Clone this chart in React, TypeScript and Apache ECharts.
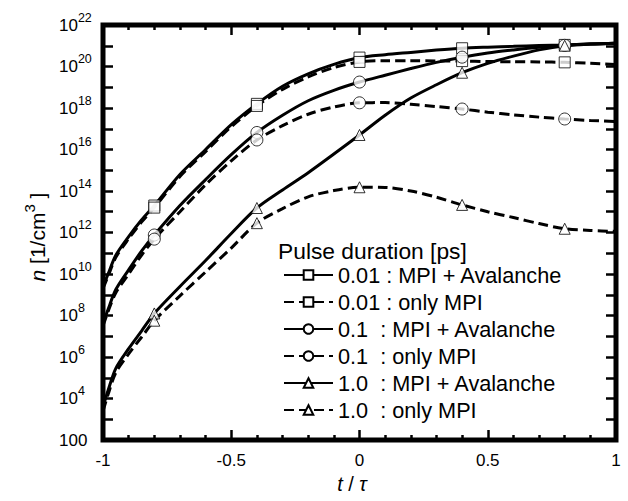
import React, { useEffect, useRef } from 'react';
import * as echarts from 'echarts';

// t / tau sample positions
const xs = [-1, -0.98, -0.95, -0.9, -0.85, -0.8, -0.7, -0.6, -0.5, -0.4, -0.3, -0.2, -0.1, 0, 0.1, 0.2, 0.3, 0.4, 0.5, 0.6, 0.7, 0.8, 0.9, 1];
// marker positions
const markerX = [-0.8, -0.4, 0, 0.4, 0.8];

// log10 of n [1/cm^3]
const aval001 = [9.4, 10.0, 10.9, 11.8, 12.6, 13.3, 14.8, 16.0, 17.2, 18.2, 19.05, 19.65, 20.1, 20.43, 20.57, 20.68, 20.79, 20.88, 20.93, 20.97, 21.01, 21.04, 21.08, 21.12];
const mpi001 = [9.3, 9.9, 10.8, 11.7, 12.5, 13.2, 14.7, 15.9, 17.1, 18.1, 18.9, 19.5, 19.95, 20.22, 20.28, 20.28, 20.27, 20.26, 20.24, 20.23, 20.22, 20.2, 20.16, 20.1];
const aval01 = [7.6, 8.3, 9.25, 10.2, 11.1, 11.88, 13.3, 14.55, 15.75, 16.82, 17.65, 18.35, 18.85, 19.25, 19.58, 19.9, 20.2, 20.45, 20.65, 20.8, 20.93, 21.02, 21.08, 21.12];
const mpi01 = [7.5, 8.2, 9.1, 10.0, 10.9, 11.68, 13.0, 14.3, 15.45, 16.46, 17.15, 17.7, 18.05, 18.25, 18.26, 18.18, 18.07, 17.95, 17.8, 17.67, 17.56, 17.47, 17.4, 17.35];
const aval1 = [3.6, 4.4, 5.45, 6.4, 7.25, 8.1, 9.4, 10.65, 11.95, 13.18, 14.05, 14.88, 15.78, 16.7, 17.65, 18.48, 19.12, 19.7, 20.15, 20.5, 20.8, 21.0, 21.08, 21.12];
const mpi1 = [3.4, 4.2, 5.25, 6.15, 6.95, 7.75, 8.95, 10.1, 11.25, 12.45, 13.15, 13.72, 14.02, 14.18, 14.17, 14.0, 13.7, 13.33, 13.0, 12.72, 12.43, 12.18, 12.1, 12.05];

const names = [
  '0.01 : MPI + Avalanche',
  '0.01 : only MPI',
  '0.1  : MPI + Avalanche',
  '0.1  : only MPI',
  '1.0  : MPI + Avalanche',
  '1.0  : only MPI',
];

const FONT = '"Liberation Sans", Arial, Helvetica, sans-serif';

export default function App() {
  const ref = useRef<HTMLDivElement>(null);
  useEffect(() => {
    const chart = echarts.init(ref.current!, null, { renderer: 'svg' });
    const defs = [
      { name: names[0], data: aval001, dashed: false, symbol: 'rect', size: 11 },
      { name: names[1], data: mpi001, dashed: true, symbol: 'rect', size: 11 },
      { name: names[2], data: aval01, dashed: false, symbol: 'circle', size: 12 },
      { name: names[3], data: mpi01, dashed: true, symbol: 'circle', size: 12 },
      { name: names[4], data: aval1, dashed: false, symbol: 'triangle', size: 11 },
      { name: names[5], data: mpi1, dashed: true, symbol: 'triangle', size: 11 },
    ];
    const markStyle = { color: '#fff', borderColor: '#000', borderWidth: 1 };
    const tickCommon = { show: true, inside: true, length: 10, lineStyle: { color: '#000', width: 2.5 } };
    const minorCommon = { show: true, splitNumber: 5, length: 5, lineStyle: { color: '#000', width: 2.5 } };
    const xBase = { type: 'value', min: -1, max: 1, interval: 0.5, splitLine: { show: false }, axisLine: { show: false, onZero: false } };
    const yBase = { type: 'value', min: 2, max: 22, interval: 1, splitLine: { show: false }, axisLine: { show: false, onZero: false } };

    const option: any = {
      animation: false,
      backgroundColor: '#fff',
      textStyle: { fontFamily: FONT },
      grid: { left: 103, right: 12, top: 25, bottom: 61, show: true, borderColor: '#000', borderWidth: 5, containLabel: false },
      xAxis: [
        {
          ...xBase,
          position: 'bottom',
          axisTick: tickCommon,
          minorTick: minorCommon,
          axisLabel: { fontSize: 17, color: '#000', margin: 12, fontFamily: FONT },
        },
        {
          ...xBase,
          position: 'top',
          axisTick: tickCommon,
          minorTick: minorCommon,
          axisLabel: { show: false },
        },
      ],
      yAxis: [
        {
          ...yBase,
          position: 'left',
          axisTick: tickCommon,
          axisLabel: {
            color: '#000',
            fontSize: 17,
            fontFamily: FONT,
            align: 'left',
            margin: 44,
            lineHeight: 28,
            formatter: (v: number) => {
              if (Math.round(v) % 2 !== 0) return '';
              if (v === 2) return '100';
              return '10{sup|' + v + '}';
            },
            rich: {
              sup: { fontSize: 12.5, lineHeight: 12, verticalAlign: 'top', color: '#000', fontFamily: FONT },
            },
          },
        },
        {
          ...yBase,
          position: 'right',
          axisTick: tickCommon,
          axisLabel: { show: false },
        },
      ],
      legend: {
        data: names,
        orient: 'vertical',
        left: 283,
        top: 263,
        padding: 0,
        itemWidth: 49,
        itemHeight: 12,
        itemGap: 3,
        selectedMode: false,
        textStyle: { fontSize: 21.7, color: '#000', fontFamily: FONT, lineHeight: 24 },
      },
      graphic: [
        {
          type: 'text',
          x: 278,
          y: 251,
          style: { text: 'Pulse duration [ps]', fontSize: 22.8, fill: '#000', fontFamily: FONT, align: 'left', verticalAlign: 'middle' },
        },
        {
          type: 'text',
          x: 352,
          y: 484,
          style: {
            text: '{i|t} / {i|τ}',
            fontSize: 20,
            fill: '#000',
            fontFamily: FONT,
            align: 'center',
            verticalAlign: 'middle',
            rich: { i: { fontStyle: 'italic', fontSize: 20, fontFamily: FONT, fill: '#000' } },
          },
        },
        {
          type: 'text',
          x: 37,
          y: 237,
          rotation: Math.PI / 2,
          style: {
            text: '{i|n} [1/cm{sup|3} ]',
            fontSize: 21,
            fill: '#000',
            fontFamily: FONT,
            align: 'center',
            verticalAlign: 'middle',
            lineHeight: 30,
            rich: {
              i: { fontStyle: 'italic', fontSize: 21, lineHeight: 30, fontFamily: FONT, fill: '#000' },
              sup: { fontSize: 15, lineHeight: 14, verticalAlign: 'top', fontFamily: FONT, fill: '#000' },
            },
          },
        },
      ],
      series: [
        ...defs.map((d) => ({
          type: 'line',
          name: d.name,
          data: xs.map((x, i) => [x, d.data[i]]),
          smooth: 0.3,
          symbol: d.symbol,
          symbolSize: d.size,
          showSymbol: false,
          clip: true,
          lineStyle: { color: '#000', width: 3, type: d.dashed ? [10, 5] : 'solid' },
          itemStyle: markStyle,
          z: 2,
        })),
        ...defs.map((d) => ({
          type: 'scatter',
          data: markerX.map((mx) => {
            const i = xs.indexOf(mx);
            return [mx, d.data[i]];
          }),
          symbol: d.symbol,
          symbolSize: d.size,
          itemStyle: markStyle,
          z: 3,
        })),
      ],
    };
    chart.setOption(option);
    return () => chart.dispose();
  }, []);
  return <div ref={ref} style={{ position: 'absolute', left: 0, top: 0, width: 628, height: 501 }} />;
}
